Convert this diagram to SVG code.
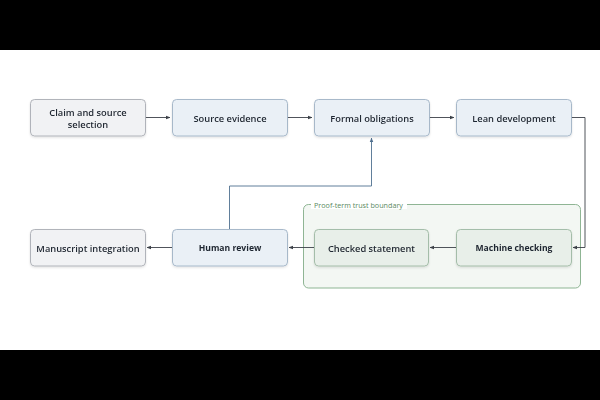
<svg xmlns="http://www.w3.org/2000/svg" width="600" height="400" viewBox="0 0 600 400">
<defs>
<style>
.lbl{font-family:"Open Sans","Noto Sans",sans-serif;font-size:9.3px;font-weight:600;fill:#1f2630;text-anchor:middle;dominant-baseline:central}
.lb2{font-family:"Open Sans","Noto Sans",sans-serif;font-size:8.6px;font-weight:700;fill:#1f2630;text-anchor:middle;dominant-baseline:central}
.gray{fill:#f1f2f4;stroke:#a9adb3;stroke-width:0.9}
.blue{fill:#eaf0f6;stroke:#9fb2c5;stroke-width:0.9}
.green{fill:#e8efe9;stroke:#9cb8a1;stroke-width:0.9}
.edge{fill:none;stroke:#3c4148;stroke-width:0.9}
.fb{fill:none;stroke:#4f7090;stroke-width:0.9}
</style>
<filter id="sh" x="-10%" y="-20%" width="120%" height="150%">
<feDropShadow dx="0" dy="1.2" stdDeviation="1.2" flood-color="#000" flood-opacity="0.12"/>
</filter>
<marker id="ah" viewBox="0 0 6 6" refX="5.5" refY="3" markerWidth="5" markerHeight="5" orient="auto">
<path d="M0,0.6 L6,3 L0,5.4 Z" fill="#3c4148"/>
</marker>
<marker id="ahb" viewBox="0 0 6 6" refX="5.5" refY="3" markerWidth="5" markerHeight="5" orient="auto">
<path d="M0,0.6 L6,3 L0,5.4 Z" fill="#4f7090"/>
</marker>
</defs>
<rect x="0" y="0" width="600" height="400" fill="#ffffff"/>
<rect x="0" y="0" width="600" height="50" fill="#000"/>
<rect x="0" y="350" width="600" height="50" fill="#000"/>

<g id="boundary">
<rect x="303.5" y="204.5" width="277" height="83.5" rx="5" fill="#f3f7f3" stroke="#82ad88" stroke-width="0.9"/>
<rect x="311" y="200" width="96" height="9" fill="#ffffff"/>
<text x="314" y="204.8" font-family="'Open Sans','Noto Sans',sans-serif" font-size="7.2" fill="#5a8a62" dominant-baseline="central">Proof-term trust boundary</text>
</g>

<g id="connectors">
<path class="edge" d="M145,117.5 H170" marker-end="url(#ah)"/>
<path class="edge" d="M287,117.5 H312" marker-end="url(#ah)"/>
<path class="edge" d="M429,117.5 H454" marker-end="url(#ah)"/>
<path class="edge" d="M571,117.5 H585 V247.5 H573" marker-end="url(#ah)"/>
<path class="edge" d="M456,247.5 H430" marker-end="url(#ah)"/>
<path class="edge" d="M314,247.5 H289" marker-end="url(#ah)"/>
<path class="edge" d="M172,247.5 H147" marker-end="url(#ah)"/>
<path class="fb" d="M229.5,229 V186 H371.5 V138" marker-end="url(#ahb)"/>
</g>

<g id="n1" filter="url(#sh)"><rect class="gray" x="30.5" y="99.5" width="115" height="36.5" rx="4"/>
<text class="lbl" x="88" y="112">Claim and source</text><text class="lbl" x="88" y="124">selection</text></g>
<g id="n2" filter="url(#sh)"><rect class="blue" x="172.5" y="99.5" width="115" height="36.5" rx="4"/>
<text class="lbl" x="230" y="118">Source evidence</text></g>
<g id="n3" filter="url(#sh)"><rect class="blue" x="314.5" y="99.5" width="115" height="36.5" rx="4"/>
<text class="lbl" x="372" y="118">Formal obligations</text></g>
<g id="n4" filter="url(#sh)"><rect class="blue" x="456.5" y="99.5" width="115" height="36.5" rx="4"/>
<text class="lbl" x="514" y="118">Lean development</text></g>
<g id="n5" filter="url(#sh)"><rect class="green" x="456.5" y="229.5" width="115" height="36.5" rx="4"/>
<text class="lb2" x="514" y="248">Machine checking</text></g>
<g id="n6" filter="url(#sh)"><rect class="green" x="314.5" y="229.5" width="114" height="36.5" rx="4"/>
<text class="lbl" x="371.5" y="248">Checked statement</text></g>
<g id="n7" filter="url(#sh)"><rect class="blue" x="172.5" y="229.5" width="115" height="36.5" rx="4"/>
<text class="lb2" x="230" y="248">Human review</text></g>
<g id="n8" filter="url(#sh)"><rect class="gray" x="30.5" y="229.5" width="115" height="36.5" rx="4"/>
<text class="lbl" x="88" y="248">Manuscript integration</text></g>
</svg>
